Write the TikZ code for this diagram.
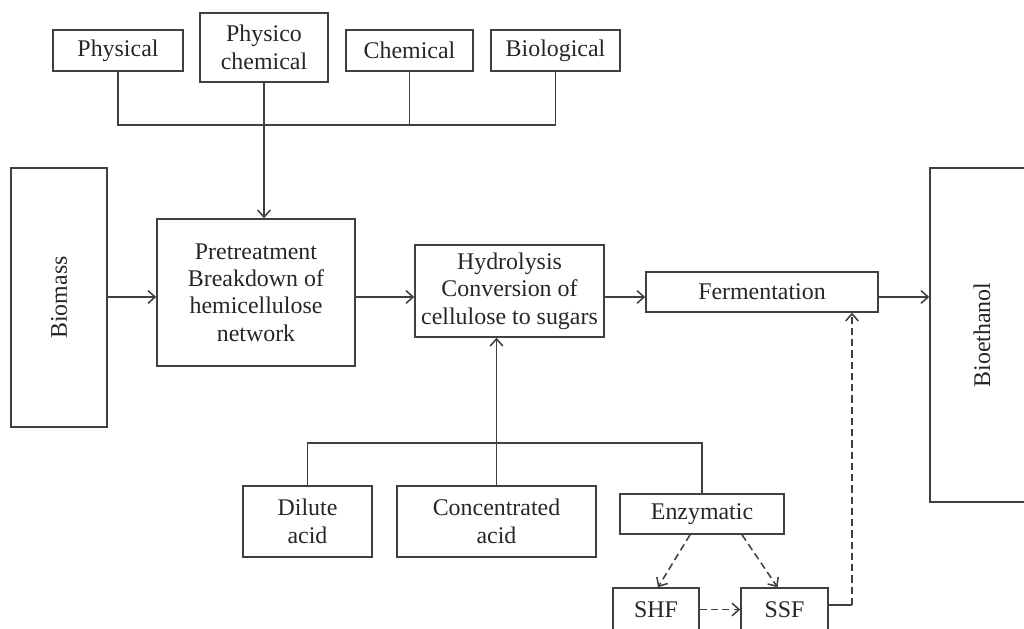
\documentclass[tikz,border=0pt]{standalone}
\usepackage{fontspec}
\setmainfont{Liberation Serif}
\usetikzlibrary{calc,arrows.meta}
\begin{document}
\begin{tikzpicture}[x=0.025cm,y=-0.025cm,
    box/.style={draw=black!75,line width=1.1pt,inner sep=0pt,align=center,text=black!85,font=\fontsize{17}{19.5}\selectfont},
    lnk/.style={draw=black!75,line width=1.1pt},
    arr/.style={lnk,-{Straight Barb[length=5pt,width=9pt]}},
    dsh/.style={lnk,dash pattern=on 5pt off 3pt}]
    \useasboundingbox (0,0) rectangle (1024,629);
    % pretreatment kinds
    \node[box,minimum width=3.25cm,minimum height=1.025cm] (phys) at (118,50.5) {Physical};
    \node[box,minimum width=3.2cm,minimum height=1.725cm] (physchem) at (264,47.5) {Physico\\chemical};
    \node[box,minimum width=3.175cm,minimum height=1.025cm] (chem) at (409.5,50.5) {Chemical};
    \node[box,minimum width=3.225cm,minimum height=1.025cm] (bio) at (555.5,50.5) {Biological};
    % main line
    \node[box,minimum width=2.4cm,minimum height=6.475cm] (biomass) at (59,297.5) {};
    \node[rotate=90,text=black!85,font=\fontsize{17}{19.5}\selectfont] (biomasstxt) at (biomass) {Biomass};
    \node[box,minimum width=4.95cm,minimum height=3.675cm] (pre) at (256,292.5) {Pretreatment\\Breakdown of\\hemicellulose\\network};
    \node[box,minimum width=4.725cm,minimum height=2.3cm] (hyd) at (509.5,291) {Hydrolysis\\Conversion of\\cellulose to sugars};
    \node[box,minimum width=5.8cm,minimum height=1cm] (ferm) at (762,292) {Fermentation};
    \node[box,minimum width=2.75cm,minimum height=8.35cm] (bioeth) at (985,335) {};
    \node[rotate=90,text=black!85,font=\fontsize{17}{19.5}\selectfont] (bioethtxt) at (982,335) {Bioethanol};
    % hydrolysis kinds
    \node[box,minimum width=3.225cm,minimum height=1.775cm] (dil) at (307.5,521.5) {Dilute\\acid};
    \node[box,minimum width=4.975cm,minimum height=1.775cm] (conc) at (496.5,521.5) {Concentrated\\acid};
    \node[box,minimum width=4.1cm,minimum height=1cm] (enz) at (702,514) {Enzymatic};
    \node[box,minimum width=2.15cm,minimum height=1.075cm] (shf) at (656,609.5) {SHF};
    \node[box,minimum width=2.175cm,minimum height=1.075cm] (ssf) at (784.5,609.5) {SSF};
    % connectors
    \coordinate (topbus) at (0,125);
    \coordinate (mainrow) at (0,297);
    \coordinate (lowbus) at (0,443);
    \coordinate (ret) at (852,605);
    \draw[lnk] (phys.south) |- (bio.south |- topbus) -- (bio.south);
    \draw[lnk] (chem.south) -- (chem.south |- topbus);
    \draw[arr] (physchem.south) -- (physchem.south |- pre.north);
    \draw[arr] (biomass.east |- mainrow) -- (pre.west |- mainrow);
    \draw[arr] (pre.east |- mainrow) -- (hyd.west |- mainrow);
    \draw[arr] (hyd.east |- mainrow) -- (ferm.west |- mainrow);
    \draw[arr] (ferm.east |- mainrow) -- (bioeth.west |- mainrow);
    \draw[lnk] (dil.north) |- (enz.north |- lowbus) -- (enz.north);
    \draw[arr] (conc.north) -- (conc.north |- hyd.south);
    \draw[arr,dsh] ($(enz.south)+(-12,0)$) -- ($(shf.north)+(2,0)$);
    \draw[arr,dsh] ($(enz.south)+(40,0)$) -- ($(ssf.north)+(-7,0)$);
    \draw[arr,dsh] (shf) -- (ssf);
    \draw[lnk] (ssf.east |- ret) -- (ret);
    \draw[arr,dsh] (ret) -- (ret |- ferm.south);
\end{tikzpicture}
\end{document}
